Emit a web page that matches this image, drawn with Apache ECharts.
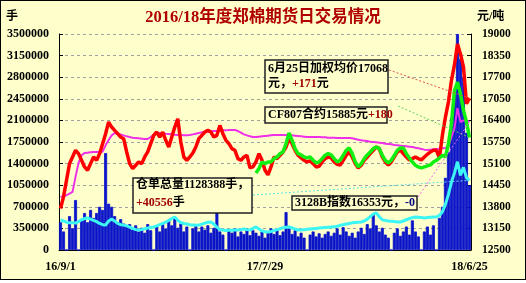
<!DOCTYPE html>
<html><head><meta charset="utf-8">
<script src="https://cdn.jsdelivr.net/npm/echarts@6/dist/echarts.min.js"></script>
<style>
html,body{margin:0;padding:0;background:#fff;}
#c{position:absolute;left:0;top:0;width:526px;height:280px;box-sizing:border-box;border:1px solid #000;background:#FFFFCC;}
</style></head><body><div id="c"></div>
<script>
// ---- data ----
const tickDates = ['16/9/1', '17/7/29', '18/6/25'];
const tickIndex = [0, 68, 136];

const volume = [
450000,300000,0,550000,350000,810000,0,500000,600000,450000,
650000,520000,600000,700000,650000,1570000,750000,700000,550000,450000,
500000,430000,380000,420000,330000,400000,300000,360000,280000,420000,
320000,0,380000,300000,420000,350000,480000,400000,540000,360000,
430000,300000,380000,0,350000,420000,300000,380000,330000,400000,
280000,360000,615000,300000,250000,0,320000,280000,350000,220000,
300000,260000,350000,240000,320000,280000,230000,300000,200000,280000,
350000,260000,330000,240000,300000,615000,350000,260000,320000,220000,
280000,200000,0,250000,300000,220000,270000,200000,260000,300000,
230000,280000,350000,250000,370000,300000,230000,280000,200000,300000,
360000,260000,420000,350000,590000,400000,300000,360000,250000,200000,
0,280000,350000,230000,300000,380000,250000,480000,300000,220000,
0,300000,380000,250000,400000,0,520000,700000,1170000,1590000,
2140000,2560000,3500000,3100000,2800000,1900000,1050000
];

const receipts = [
486000,470000,450000,440000,440000,437000,460000,490000,510000,518000,
500000,480000,460000,430000,410000,405000,470000,500000,470000,430000,
410000,405000,390000,370000,350000,330000,324000,330000,345000,355000,
365000,373000,390000,410000,430000,450000,480000,510000,535000,480000,
445000,430000,420000,410000,405000,400000,405000,420000,435000,450000,
454000,420000,370000,330000,324000,315000,320000,320000,324000,324000,
330000,340000,330000,324000,350000,373000,340000,310000,295000,292000,
300000,315000,330000,345000,360000,370000,373000,360000,340000,324000,
324000,330000,335000,340000,345000,350000,355000,360000,365000,370000,
373000,375000,385000,400000,410000,420000,430000,440000,445000,450000,
454000,470000,500000,540000,580000,600000,540000,490000,480000,470000,
465000,460000,455000,454000,470000,490000,510000,525000,535000,530000,
525000,520000,525000,530000,535000,535000,560000,620000,740000,900000,
1100000,1250000,1430000,1210000,1340000,1170000,1128388
];

const avgPrice = [
13750,14100,14600,15100,15300,15500,15400,15200,15000,14900,
15100,15300,15200,15400,15700,16000,16350,16200,16100,16000,
15900,15850,15450,15100,14950,15050,15150,15100,15300,15450,
15700,15950,16050,15900,16050,15800,15600,15900,16200,16450,
15750,15300,15200,15300,15420,15600,15850,15950,16050,16100,
16050,15900,15950,16250,16000,15800,15700,15550,15500,15250,
15200,15300,15350,14970,15000,15150,15400,15200,14900,14760,
15000,15300,15250,15350,15450,15600,15850,15700,15500,15350,
15270,15200,15150,15180,15100,15000,15020,15150,15250,15300,
15270,15150,15080,15060,15200,15350,15450,15300,15100,14970,
15050,15200,15300,15400,15500,15600,15550,15300,15150,15060,
15150,15300,15450,15510,15400,15300,15210,15250,15300,15250,
15210,15300,15380,15450,15500,15500,15270,15960,16500,16960,
17600,18070,18700,18400,18000,16900,17068
];

const cf807 = [
null,null,null,null,null,null,null,null,null,null,
null,null,null,null,null,null,null,null,null,null,
null,null,null,null,null,null,null,null,null,null,
null,null,null,null,null,null,null,null,null,null,
null,null,null,null,null,null,null,null,null,null,
null,null,null,null,null,null,null,null,null,null,
null,null,null,null,null,14820,14950,15150,15100,15150,
15150,15250,15300,15400,15450,15700,16020,15800,15550,15400,
15360,15300,15270,15300,15200,15120,15150,15250,15350,15400,
15360,15250,15150,15200,15350,15500,15570,15400,15150,15000,
15100,15250,15360,15450,15550,15600,15550,15350,15200,15120,
15200,15350,15500,15570,15570,15400,15270,15150,15050,15000,
14970,15000,15030,15060,15150,15200,15270,15350,15300,15700,
16300,17300,17550,17200,16700,16350,15885
];

const index3128B = [
14100,14100,14150,14200,14250,14700,15120,15350,15420,15430,
15440,15450,15450,15450,15460,15650,15810,15950,16020,16000,
15980,15950,15920,15900,15880,15870,15860,15850,15840,15840,
15900,15970,16000,16020,16020,16000,15990,15980,15970,15960,
15960,15950,15950,15960,15980,16000,16020,16040,16050,16060,
16070,16080,16080,16090,16100,16100,16110,16110,16110,16080,
16030,15980,15950,15920,15900,15900,15910,15920,15930,15940,
15950,15960,15960,15960,15960,15960,15950,15950,15940,15930,
15920,15910,15900,15900,15900,15900,15900,15890,15890,15880,
15880,15880,15870,15870,15870,15870,15870,15860,15840,15820,
15800,15790,15780,15760,15750,15740,15730,15720,15700,15690,
15680,15660,15650,15640,15630,15620,15610,15600,15580,15560,
15540,15520,15510,15520,15530,15540,15550,15560,15570,15620,
15900,16170,16770,16350,16400,16400,16353
];

// ---- chart ----
const N = volume.length;
const categories = volume.map((_, i) => String(i));
const numFont = '"Liberation Serif","Noto Sans CJK SC",serif';
const cjkFont = '"Liberation Serif","Noto Sans CJK SC",sans-serif';

const chart = echarts.init(document.getElementById('c'), null, {renderer: 'canvas'});

chart.setOption({
  animation: false,
  backgroundColor: 'transparent',
  grid: {left: 58, top: 33, width: 412, height: 216, containLabel: false, outerBoundsMode: 'none'},
  xAxis: {
    type: 'category', data: categories, boundaryGap: true,
    axisLine: {lineStyle: {color: '#000', width: 1}},
    axisTick: {show: false},
    splitLine: {show: false},
    axisLabel: {
      interval: (i) => tickIndex.indexOf(i) >= 0,
      formatter: (v) => { const k = tickIndex.indexOf(Number(v)); return k >= 0 ? tickDates[k] : ''; },
      color: '#000', fontFamily: numFont, fontWeight: 'bold', fontSize: 12, margin: 11
    }
  },
  yAxis: [
    {
      type: 'value', min: 0, max: 3500000, interval: 350000, position: 'left',
      axisLine: {show: true, lineStyle: {color: '#000', width: 1}},
      axisTick: {show: true, inside: true, length: 4, lineStyle: {color: '#000'}},
      axisLabel: {color: '#000', fontFamily: numFont, fontWeight: 'bold', fontSize: 12, margin: 10,
        formatter: (v) => String(v)},
      splitLine: {show: true, lineStyle: {color: '#A0A0A0', type: [3, 3], width: 1}}
    },
    {
      type: 'value', min: 12500, max: 19000, interval: 650, position: 'right',
      axisLine: {show: true, lineStyle: {color: '#000', width: 1}},
      axisTick: {show: true, inside: true, length: 4, lineStyle: {color: '#000'}},
      axisLabel: {color: '#000', fontFamily: numFont, fontWeight: 'bold', fontSize: 11.5, margin: 11,
        formatter: (v) => String(v)},
      splitLine: {show: false}
    }
  ],
  series: [
    {type: 'bar', name: '成交量', yAxisIndex: 0, data: volume, barWidth: '100%', barCategoryGap: '0%',
     itemStyle: {color: '#0A14C8', borderColor: '#0A14C8', borderWidth: 0.8}, silent: true, z: 2},
    {type: 'line', name: '仓单总量', yAxisIndex: 0, data: receipts, showSymbol: false, symbol: 'none',
     lineStyle: {color: '#3CF5F5', width: 3}, z: 3},
    {type: 'line', name: '3128B指数', yAxisIndex: 1, data: index3128B, showSymbol: false, symbol: 'none',
     lineStyle: {color: '#F030E8', width: 2}, z: 4},
    {type: 'line', name: '加权均价', yAxisIndex: 1, data: avgPrice, showSymbol: false, symbol: 'none',
     lineStyle: {color: '#FF0000', width: 3.5}, z: 5},
    {type: 'line', name: 'CF807', yAxisIndex: 1, data: cf807, showSymbol: false, symbol: 'none', connectNulls: false,
     lineStyle: {color: '#10F010', width: 3.5}, z: 6}
  ]
});

// annotation layout
const pR = chart.convertToPixel({seriesIndex: 3}, [N - 1, avgPrice[N - 1]]);
const pG = chart.convertToPixel({seriesIndex: 4}, [N - 1, cf807[N - 1]]);
const pC = chart.convertToPixel({seriesIndex: 1}, [N - 1, receipts[N - 1]]);
const pM = chart.convertToPixel({seriesIndex: 2}, [N - 1, index3128B[N - 1]]);

const boxStyle = {fill: '#FFFFCC', stroke: '#202020', lineWidth: 1.5};
const rich = {
  k: {fontFamily: cjkFont, fontWeight: 'bold', fontSize: 12, fill: '#000', lineHeight: 15},
  r: {fontFamily: cjkFont, fontWeight: 'bold', fontSize: 12, fill: '#A00000', lineHeight: 15},
  b: {fontFamily: cjkFont, fontWeight: 'bold', fontSize: 12, fill: '#000080', lineHeight: 15}
};
const rich18 = {
  k: Object.assign({}, rich.k, {lineHeight: 18}),
  r: Object.assign({}, rich.r, {lineHeight: 18})
};
function dotted(x1, y1, p, color) {
  return {type: 'line', z: 90, silent: true,
    shape: {x1: x1, y1: y1, x2: p[0], y2: p[1]},
    style: {stroke: color, lineWidth: 1, lineDash: [2, 2]}};
}

chart.setOption({
  graphic: [
    {type: 'text', z: 100, left: 'center', x: 0, top: 8,
     style: {text: '2016/18年度郑棉期货日交易情况', fontFamily: cjkFont, fontWeight: 'bold', fontSize: 16.5,
       fill: '#B00000', textShadowColor: 'rgba(60,0,0,0.7)', textShadowOffsetX: 1, textShadowOffsetY: 1, textShadowBlur: 0}},
    {type: 'text', z: 100, x: 5, y: 16,
     style: {text: '手', fontFamily: cjkFont, fontWeight: 'bold', fontSize: 12, fill: '#000', verticalAlign: 'middle'}},
    {type: 'text', z: 100, x: 476, y: 16,
     style: {text: '元/吨', fontFamily: cjkFont, fontWeight: 'bold', fontSize: 12, fill: '#000', verticalAlign: 'middle'}},

    dotted(388, 69, pR, '#E05050'),
    dotted(397, 105, pG, '#60D060'),
    dotted(252, 194, pC, '#60E0E0'),
    dotted(417, 196, pM, '#F060F0'),

    {type: 'rect', z: 100, shape: {x: 264, y: 59, width: 123, height: 33}, style: boxStyle},
    {type: 'text', z: 101, x: 267, y: 60,
     style: {text: '{k|6月25日加权均价17068}\n{k|元，}{r|+171}{k|元}', rich: rich, verticalAlign: 'top'}},

    {type: 'rect', z: 100, shape: {x: 264, y: 106, width: 122, height: 16}, style: boxStyle},
    {type: 'text', z: 101, x: 267, y: 114,
     style: {text: '{k|CF807合约15885元}{r|+180}', rich: rich, verticalAlign: 'middle'}},

    {type: 'rect', z: 100, shape: {x: 132, y: 177, width: 119, height: 35}, style: boxStyle},
    {type: 'text', z: 101, x: 135, y: 175,
     style: {text: '{k|仓单总量1128388手，}\n{r|+40556}{k|手}', rich: rich18, verticalAlign: 'top'}},

    {type: 'rect', z: 100, shape: {x: 291, y: 195, width: 125, height: 14}, style: boxStyle},
    {type: 'text', z: 101, x: 294, y: 202,
     style: {text: '{k|3128B指数16353元，}{b|-0}', rich: rich, verticalAlign: 'middle'}}
  ]
});
</script></body></html>
